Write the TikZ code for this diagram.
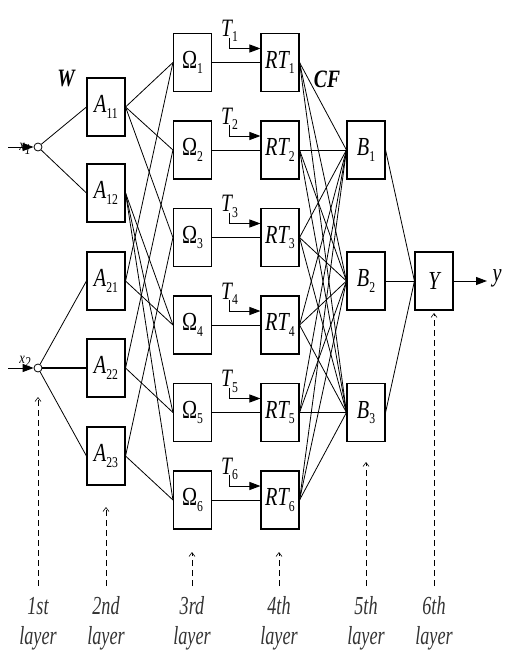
\documentclass[tikz,border=0pt]{standalone}
\usepackage{fontspec}
\setmainfont{Liberation Serif}
\usetikzlibrary{arrows.meta}
\newcommand{\cz}[1]{\scalebox{0.78}[1]{#1}}
\newcommand{\lz}[1]{\scalebox{0.7}[1]{#1}}
\newcommand{\sbx}[1]{\raisebox{-0.22em}{\fontsize{15}{15}\selectfont #1}}
\begin{document}
\begin{tikzpicture}[x=1pt,y=-1pt,
  blk/.style={draw, line width=1.1pt, minimum width=38pt, minimum height=58pt, inner sep=0pt, font=\fontsize{26}{26}\selectfont},
  wire/.style={line width=0.8pt},
  fat/.style={line width=1.3pt},
  inport/.style={circle, draw, line width=0.8pt, minimum size=8pt, inner sep=0pt},
  layarrow/.style={line width=0.6pt, dash pattern=on 6pt off 4pt, -{Straight Barb[length=4pt,width=6pt]}},
  tarrow/.style={line width=1pt, -{Triangle[length=11pt,width=8pt]}},
  laytext/.style={font=\fontsize{26}{30}\selectfont\itshape, inner sep=0pt, anchor=base, align=center, text=black!80},
  bigit/.style={font=\fontsize{25}{25}\selectfont\bfseries\itshape, inner sep=0pt}
]
\useasboundingbox (0,0) rectangle (505,653);

% inputs
\node[inport] (c1) at (38,147) {};
\node[inport] (c2) at (38,368) {};
\coordinate (i1) at (8,147);
\coordinate (i2) at (8,368);
\draw[tarrow] (i1) -- (c1.west);
\draw[tarrow] (i2) -- (c2.west);
\node[font=\fontsize{16}{16}\selectfont\itshape, inner sep=0pt] (lx1) at (25,149) {\cz{x\sbx{1}}};
\node[font=\fontsize{16}{16}\selectfont\itshape, inner sep=0pt] (lx2) at (25,362) {\cz{x\sbx{2}}};

% layer 2
\node[blk] (A11) at (106,107) {\cz{\itshape A\sbx{\upshape 11}}};
\node[blk] (A12) at (106,193) {\cz{\itshape A\sbx{\upshape 12}}};
\node[blk] (A21) at (106,281) {\cz{\itshape A\sbx{\upshape 21}}};
\node[blk] (A22) at (106,368) {\cz{\itshape A\sbx{\upshape 22}}};
\node[blk] (A23) at (106,456) {\cz{\itshape A\sbx{\upshape 23}}};

\node[bigit] (W) at (66,79) {\cz{W}};
\node[bigit] (CF) at (327,79) {\cz{CF}};

% layer 3 and 4
\foreach \k/\yy in {1/62.5,2/150,3/237.5,4/325,5/412.5,6/500}{
  \node[blk] (O\k) at (192.5,\yy) {\cz{Ω\sbx{\k}}};
  \node[blk] (R\k) at (280,\yy) {\cz{\itshape RT\sbx{\upshape\k}}};
  \node[font=\fontsize{25}{25}\selectfont\itshape, inner sep=0pt, anchor=base west] (T\k) at (221,\yy-26) {\cz{T\sbx{\upshape\k}}};
  \coordinate (ts\k) at (229,\yy-25);
  \draw[tarrow] (ts\k) |- ([yshift=14pt]R\k.west);
  \draw[wire] (O\k.east) -- (R\k.west);
}

% layer 5 and 6
\node[blk] (B1) at (366,150) {\cz{\itshape B\sbx{\upshape 1}}};
\node[blk] (B2) at (366,281) {\cz{\itshape B\sbx{\upshape 2}}};
\node[blk] (B3) at (366,412.5) {\cz{\itshape B\sbx{\upshape 3}}};
\node[blk] (Y) at (434,281) {\cz{\itshape Y}};
\coordinate (yo) at (487,281);
\node[font=\fontsize{26}{26}\selectfont\itshape, inner sep=0pt] (ylab) at (497,278) {\cz{y}};
\draw[tarrow] (Y.east) -- (yo);

% input -> layer 2
\draw[wire] (c1) -- (A11.west);
\draw[wire] (c1) -- (A12.west);
\draw[wire] (c2) -- (A21.west);
\draw[fat] (c2) -- (A22.west);
\draw[wire] (c2) -- (A23.west);

% layer 2 -> layer 3
\foreach \k in {1,2,3}{\draw[wire] (A11.east) -- (O\k.west);}
\foreach \k in {4,5,6}{\draw[wire] (A12.east) -- (O\k.west);}
\draw[wire] (A21.east) -- (O1.west);
\draw[wire] (A21.east) -- (O4.west);
\draw[wire] (A22.east) -- (O2.west);
\draw[wire] (A22.east) -- (O5.west);
\draw[wire] (A23.east) -- (O3.west);
\draw[wire] (A23.east) -- (O6.west);

% layer 4 -> layer 5
\foreach \k in {1,...,6}{
  \foreach \b in {1,2,3}{\draw[wire] (R\k.east) -- (B\b.west);}
}
% layer 5 -> 6
\foreach \b in {1,2,3}{\draw[wire] (B\b.east) -- (Y.west);}

% layer markers
\foreach \n/\xx/\tip/\txt in {1/38/397/1st,2/106/507/2nd,3/192/552/3rd,4/279/552/4th,5/366/462/5th,6/434/313/6th}{
  \coordinate (lb\n) at (\xx,586);
  \coordinate (lt\n) at (\xx,\tip);
  \draw[layarrow] (lb\n) -- (lt\n);
  \node[laytext] (ln\n) at (\xx,644) {\lz{\txt}\\\lz{layer}};
}
\end{tikzpicture}
\end{document}
